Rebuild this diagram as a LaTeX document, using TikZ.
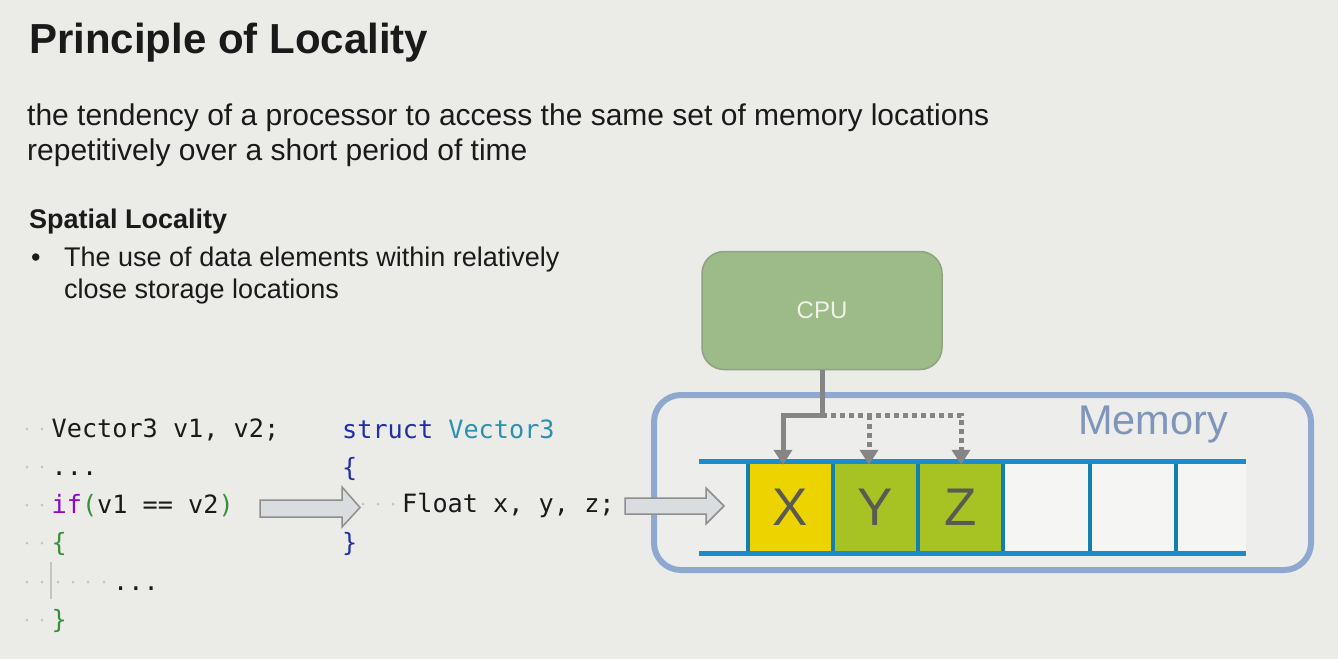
\documentclass[tikz,border=0pt]{standalone}
\usepackage{fontspec}
\setmainfont{Liberation Sans}
\newfontfamily\codefont{DejaVu Sans Mono}
\usetikzlibrary{arrows.meta,calc}
\definecolor{bg}{HTML}{EBEBE8}
\definecolor{ink}{HTML}{1A1A1A}
\definecolor{cpufill}{HTML}{9CBB88}
\definecolor{cpubd}{HTML}{8FA383}
\definecolor{cputext}{HTML}{EEF3E6}
\definecolor{membd}{HTML}{8FA8CF}
\definecolor{memfill}{HTML}{EDEEEC}
\definecolor{memtext}{HTML}{7F95BA}
\definecolor{memline}{HTML}{1B8CCB}
\definecolor{memvline}{HTML}{137FAE}
\definecolor{xfill}{HTML}{EDD300}
\definecolor{yfill}{HTML}{A6C323}
\definecolor{emptyfill}{HTML}{F5F5F3}
\definecolor{letter}{HTML}{5A5A52}
\definecolor{conn}{HTML}{858585}
\definecolor{arrfill}{HTML}{D9DDE0}
\definecolor{arrbd}{HTML}{8E8E8E}
\definecolor{kw}{HTML}{8F08C4}
\definecolor{par}{HTML}{3A8F3A}
\definecolor{kwblue}{HTML}{1F2FA8}
\definecolor{type}{HTML}{2B91AF}
\definecolor{wsdot}{HTML}{C4C4C4}
\begin{document}
\begin{tikzpicture}[x=1pt,y=-1pt,
  txt/.style={anchor=base west,inner sep=0pt,text=ink},
  code/.style={txt,font=\codefont\fontsize{25.2}{30}\selectfont},
  cellbox/.style={minimum width=85pt,minimum height=92pt,inner sep=0pt,text=letter,font=\fontsize{53}{53}\selectfont},
  conline/.style={draw=conn,line width=5pt,-{Triangle[width=18pt,length=15pt]}},
  dotline/.style={conline,dash pattern=on 5pt off 4pt},
  bigarrow/.style={fill=arrfill,draw=arrbd,line width=1.5pt,line join=miter},
  wsd/.style={fill=wsdot,draw=none}]
\useasboundingbox (0,0) rectangle (1338,659);
\fill[bg] (0,0) rectangle (1338,659);

% texts
\node[txt,font=\bfseries\fontsize{42}{50}\selectfont] (title) at (29,53) {Principle of Locality};
\node[txt,font=\fontsize{30}{35}\selectfont] (def1) at (27,125) {the tendency of a processor to access the same set of memory locations};
\node[txt,font=\fontsize{30}{35}\selectfont] (def2) at (27,160.5) {repetitively over a short period of time};
\node[txt,font=\bfseries\fontsize{27}{32}\selectfont] (spatial) at (29,228) {Spatial Locality};
\node[txt,font=\fontsize{27}{32}\selectfont] (bullet) at (31,266) {•};
\node[txt,font=\fontsize{27}{32}\selectfont] (b1) at (64,266) {The use of data elements within relatively};
\node[txt,font=\fontsize{27}{32}\selectfont] (b2) at (64,298) {close storage locations};

% code column 1
\frenchspacing
\node[code] (l1) at (51.5,437) {Vector3 v1, v2;};
\node[code] (l2) at (51.5,475) {...};
\node[code] (l3) at (51.5,513) {\textcolor{kw}{if}\textcolor{par}{(}v1 == v2\textcolor{par}{)}};
\node[code] (l4) at (51.5,551) {\textcolor{par}{\{}};
\node[code] (l5) at (113,590) {...};
\node[code] (l6) at (51.5,628) {\textcolor{par}{\}}};
\foreach \yy in {429,467,505,543,582,620}{
  \fill[wsd] (27,\yy) circle (1.5pt);
  \fill[wsd] (42,\yy) circle (1.5pt);
}
\foreach \xx in {58,73,88,104}{\fill[wsd] (\xx,582) circle (1.5pt);}
\draw[wsdot,line width=1.2pt] (51,562) -- (51,599);

% code column 2
\node[code] (s1) at (342,438) {\textcolor{kwblue}{struct} \textcolor{type}{Vector3}};
\node[code] (s2) at (342,476) {\textcolor{kwblue}{\{}};
\node[code] (s3) at (402,512) {Float x, y, z;};
\node[code] (s4) at (342,551) {\textcolor{kwblue}{\}}};
\foreach \xx in {363,378,393}{\fill[wsd] (\xx,504) circle (1.5pt);}

% CPU
\node[draw=cpubd,fill=cpufill,line width=1.5pt,rounded corners=22pt,minimum width=240pt,minimum height=118pt,text=cputext,font=\fontsize{24}{24}\selectfont] (cpu) at (822,310.5) {CPU};

% Memory
\node[draw=membd,fill=memfill,line width=6pt,rounded corners=27pt,minimum width=657pt,minimum height=175pt,inner sep=0pt] (mem) at (982.5,482.5) {};
\node[txt,text=memtext,font=\fontsize{41.5}{41.5}\selectfont] (memlabel) at (1078,434) {Memory};

% big hollow arrows
\path[bigarrow] (260,500) -- (342,500) -- (342,487) -- (360,507.5) -- (342,527) -- (342,517) -- (260,517) -- cycle;
\path[bigarrow] (625,498) -- (706,498) -- (706,488) -- (724,506) -- (706,524) -- (706,514) -- (625,514) -- cycle;

% cells
\node[cellbox,fill=xfill] (c1) at (790.5,507) {X};
\node[cellbox,fill=yfill] (c2) at (875.5,507) {Y};
\node[cellbox,fill=yfill] (c3) at (960.5,507) {Z};
\node[cellbox,fill=emptyfill,minimum width=87pt] (c4) at (1046.5,507) {};
\node[cellbox,fill=emptyfill,minimum width=86pt] (c5) at (1133,507) {};
\node[cellbox,fill=emptyfill,minimum width=70pt] (c6) at (1211,507) {};
\foreach \xx in {748,833,918,1003,1090,1176}{\draw[memvline,line width=4pt] (\xx,461) -- (\xx,553);}
\draw[memline,line width=5pt] (699,461) -- (1246,461);
\draw[memline,line width=5pt] (699,553) -- (1246,553);

% connectors
\coordinate (j0) at (822,415);
\coordinate (jx) at (783,415);
\coordinate (jy) at (869,415);
\coordinate (jz) at (961,415);
\draw[dotline] (j0) -- (jz) -- ([yshift=-4pt]jz |- c3.north);
\draw[dotline] (jy) -- ([yshift=-4pt]jy |- c2.north);
\draw[conline] (cpu.south) -- (j0) -- (jx) -- ([yshift=-4pt]jx |- c1.north);
\end{tikzpicture}
\end{document}
